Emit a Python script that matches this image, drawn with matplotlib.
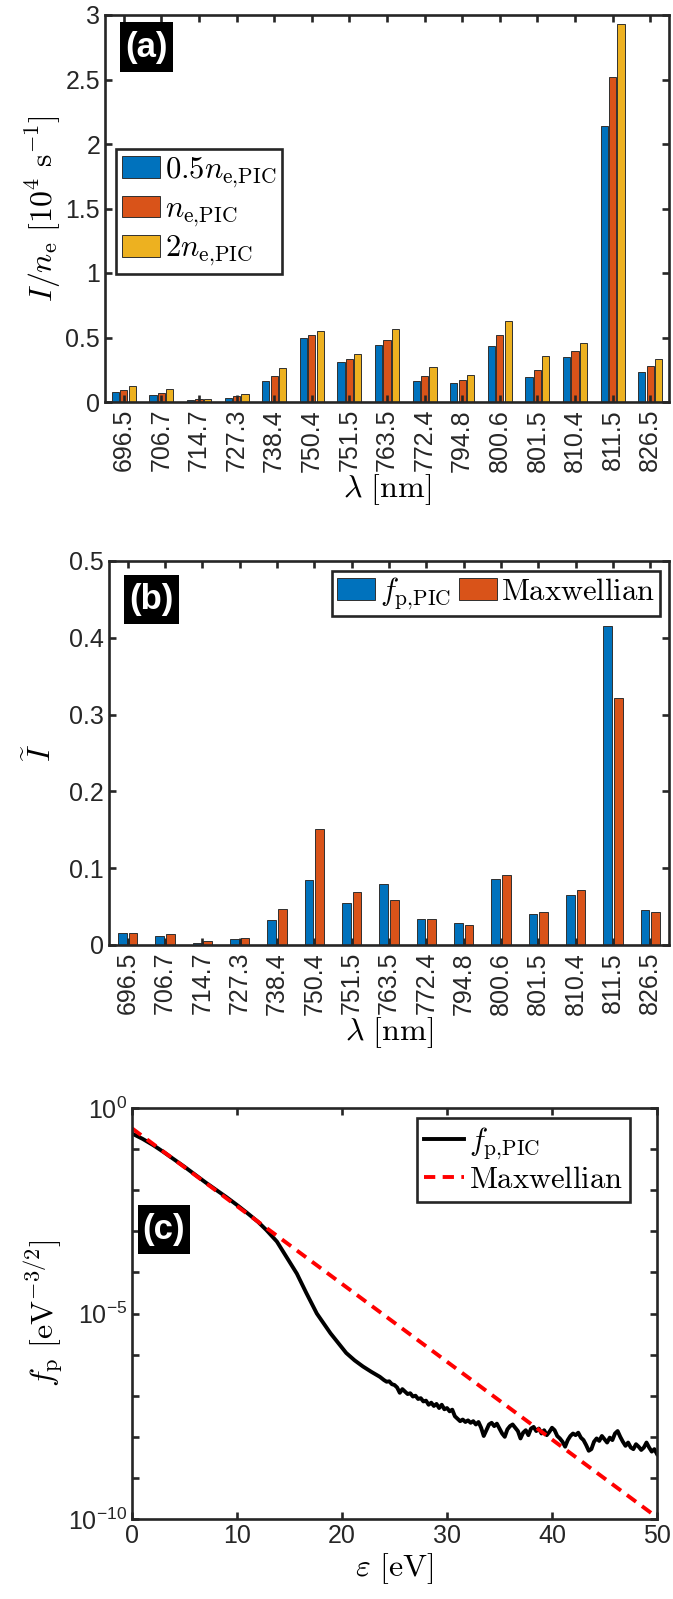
import numpy as np
import matplotlib
matplotlib.use('Agg')
import matplotlib.pyplot as plt
from matplotlib.patches import Rectangle
from matplotlib.ticker import FixedLocator, NullFormatter, LogFormatterSciNotation

# ---------------- data ----------------
wavelengths = ['696.5', '706.7', '714.7', '727.3', '738.4', '750.4', '751.5', '763.5',
               '772.4', '794.8', '800.6', '801.5', '810.4', '811.5', '826.5']

# panel (a): I/n_e [1e4 s^-1]
a_half = [0.075, 0.054, 0.015, 0.034, 0.165, 0.500, 0.312, 0.440, 0.165, 0.147,
          0.431, 0.190, 0.349, 2.140, 0.232]
a_one = [0.095, 0.070, 0.020, 0.046, 0.200, 0.516, 0.333, 0.480, 0.200, 0.170,
         0.520, 0.245, 0.395, 2.517, 0.279]
a_two = [0.127, 0.100, 0.026, 0.062, 0.263, 0.547, 0.372, 0.565, 0.271, 0.209,
         0.627, 0.354, 0.454, 2.928, 0.333]

# panel (b): normalised intensity
b_pic = [0.0152, 0.0113, 0.0030, 0.0074, 0.0330, 0.0850, 0.0547, 0.0790, 0.0334, 0.0280,
         0.0855, 0.0400, 0.0646, 0.4150, 0.0456]
b_max = [0.0152, 0.0148, 0.0048, 0.0087, 0.0470, 0.1510, 0.0694, 0.0590, 0.0334, 0.0265,
         0.0907, 0.0430, 0.0710, 0.3210, 0.0430]

# panel (c): EEPF (energy in eV, log10 of f_p)
c_energy = [0, 1, 2, 3, 4, 5, 6, 7, 8, 9, 10, 11, 12, 12.8, 13.8, 14.7, 15.7, 16.6, 17.6,
            18.9, 20.4, 21.2, 22.0, 22.8, 23.6,
            24.00, 24.25, 24.50, 24.75, 25.00, 25.25, 25.50, 25.75, 26.00, 26.25, 26.50, 26.75,
            27.00, 27.25, 27.50, 27.75, 28.00, 28.25, 28.50, 28.75, 29.00, 29.25, 29.50, 29.75,
            30.00, 30.25, 30.50, 30.75, 31.00, 31.25, 31.50, 31.75, 32.00, 32.25, 32.50, 32.75,
            33.00, 33.25, 33.50, 33.75, 34.00, 34.25, 34.50, 34.75, 35.00, 35.25, 35.50, 35.75,
            36.00, 36.25, 36.50, 36.75, 37.00, 37.25, 37.50, 37.75, 38.00, 38.25, 38.50, 38.75,
            39.00, 39.25, 39.50, 39.75, 40.00, 40.25, 40.50, 40.75, 41.00, 41.25, 41.50, 41.75,
            42.00, 42.25, 42.50, 42.75, 43.00, 43.25, 43.50, 43.75, 44.00, 44.25, 44.50, 44.75,
            45.00, 45.25, 45.50, 45.75, 46.00, 46.25, 46.50, 46.75, 47.00, 47.25, 47.50, 47.75,
            48.00, 48.25, 48.50, 48.75, 49.00, 49.25, 49.50, 49.75, 50.00]
c_log10_pic = [-0.62, -0.75, -0.90, -1.07, -1.25, -1.43, -1.62, -1.81, -1.99, -2.17, -2.36,
               -2.56, -2.77, -2.97, -3.25, -3.62, -4.03, -4.50, -5.00, -5.48, -5.96, -6.14,
               -6.29, -6.42, -6.54,
               -6.62, -6.66, -6.65, -6.72, -6.74, -6.80, -6.93, -6.84, -6.90, -6.96, -6.94, -7.02,
               -7.00, -7.08, -7.06, -7.14, -7.12, -7.22, -7.17, -7.25, -7.20, -7.30, -7.22, -7.33,
               -7.30, -7.38, -7.34, -7.50, -7.56, -7.62, -7.58, -7.64, -7.60, -7.66, -7.62, -7.70,
               -7.64, -7.78, -7.98, -7.84, -7.70, -7.66, -7.74, -7.68, -7.80, -7.92, -8.00, -7.82,
               -7.74, -7.70, -7.78, -7.86, -8.04, -7.90, -7.84, -7.96, -7.80, -7.76, -7.86, -7.80,
               -7.92, -7.84, -7.96, -7.88, -7.78, -7.84, -7.98, -8.04, -8.12, -8.24, -8.08, -7.98,
               -7.92, -7.96, -7.90, -8.02, -8.08, -8.20, -8.34, -8.30, -8.12, -8.04, -8.10, -7.98,
               -8.06, -8.14, -8.02, -8.08, -7.92, -7.86, -8.00, -8.12, -8.22, -8.14, -8.26, -8.30,
               -8.18, -8.24, -8.32, -8.26, -8.14, -8.26, -8.36, -8.30, -8.42]
max_energy = [0, 50]
max_f = [0.32, 1.1e-10]

# ---------------- style ----------------
plt.rcParams['font.family'] = ['Liberation Sans', 'DejaVu Sans']
plt.rcParams['mathtext.fontset'] = 'cm'
plt.rcParams['axes.unicode_minus'] = False

C_BLUE = '#0072BD'
C_ORANGE = '#D95319'
C_YELLOW = '#EDB120'
DARK = '#262626'
TICK_FS = 18
LABEL_FS = 23
LEG_FS = 22

W, H = 673, 1599
fig = plt.figure(figsize=(W / 100, H / 100), dpi=100)


def ax_rect(l, t, r, b):
    return [l / W, 1 - b / H, (r - l) / W, (b - t) / H]


def style_axes(ax):
    for s in ax.spines.values():
        s.set_linewidth(1.9)
        s.set_color(DARK)
    ax.tick_params(which='both', direction='in', top=True, right=True,
                   length=5, width=1.9, color=DARK, labelcolor=DARK,
                   labelsize=TICK_FS)


def panel_tag(l, t, r, b, txt):
    fig.add_artist(Rectangle((l / W, 1 - b / H), (r - l) / W, (b - t) / H,
                             transform=fig.transFigure, facecolor='black',
                             edgecolor='none', zorder=10))
    fig.text((l + r) / 2 / W, 1 - (t + b) / 2 / H, txt, ha='center', va='center',
             color='white', fontsize=25, fontweight='bold', family='Liberation Sans',
             zorder=11)


x = np.arange(1, len(wavelengths) + 1)
edge = dict(edgecolor='#303030', linewidth=0.7)
leg_common = dict(frameon=True, fancybox=False, framealpha=1, edgecolor=DARK,
                  fontsize=LEG_FS, borderaxespad=0)

# ---------------- panel (a) ----------------
ax1 = fig.add_axes(ax_rect(105, 15, 669, 402))
bw = 0.19
ax1.bar(x - 0.222, a_half, bw, color=C_BLUE, label=r'$0.5n_{\mathrm{e{,}PIC}}$', **edge)
ax1.bar(x, a_one, bw, color=C_ORANGE, label=r'$n_{\mathrm{e{,}PIC}}$', **edge)
ax1.bar(x + 0.222, a_two, bw, color=C_YELLOW, label=r'$2n_{\mathrm{e{,}PIC}}$', **edge)
ax1.set_xlim(0.5, 15.5)
ax1.set_ylim(0, 3)
ax1.set_xticks(x)
ax1.set_xticklabels(wavelengths, rotation=90)
ax1.set_yticks([0, 0.5, 1, 1.5, 2, 2.5, 3])
ax1.set_yticklabels(['0', '0.5', '1', '1.5', '2', '2.5', '3'])
style_axes(ax1)
ax1.tick_params(axis='x', pad=5)
ax1.set_xlabel(r'$\lambda\ [\mathrm{nm}]$', fontsize=LABEL_FS, labelpad=0)
ax1.set_ylabel(r'$I/n_\mathrm{e}\ [10^4\ \mathrm{s}^{-1}]$', fontsize=LABEL_FS, labelpad=2)
leg1 = ax1.legend(loc='upper left', bbox_to_anchor=(0.0195, 0.654),
                  handlelength=1.25, handleheight=0.72, handletextpad=0.15,
                  labelspacing=0.15, borderpad=0.2, **leg_common)
leg1.get_frame().set_linewidth(1.9)
panel_tag(120, 22, 173, 72, '(a)')

# ---------------- panel (b) ----------------
ax2 = fig.add_axes(ax_rect(109, 561, 669, 945))
bw2 = 0.232
ax2.bar(x - 0.14, b_pic, bw2, color=C_BLUE, label=r'$f_{\mathrm{p{,}PIC}}$', **edge)
ax2.bar(x + 0.14, b_max, bw2, color=C_ORANGE, label=r'$\mathrm{Maxwellian}$', **edge)
ax2.set_xlim(0.5, 15.5)
ax2.set_ylim(0, 0.5)
ax2.set_xticks(x)
ax2.set_xticklabels(wavelengths, rotation=90)
ax2.set_yticks([0, 0.1, 0.2, 0.3, 0.4, 0.5])
ax2.set_yticklabels(['0', '0.1', '0.2', '0.3', '0.4', '0.5'])
style_axes(ax2)
ax2.tick_params(axis='x', pad=5)
ax2.set_xlabel(r'$\lambda\ [\mathrm{nm}]$', fontsize=LABEL_FS, labelpad=0)
ax2.set_ylabel(r'$\widetilde{I}$', fontsize=LABEL_FS, labelpad=8)
leg2 = ax2.legend(loc='upper right', bbox_to_anchor=(0.984, 0.974), ncol=2,
                  handlelength=1.25, handleheight=0.72, handletextpad=0.15,
                  columnspacing=0.25, borderpad=0.15, **leg_common)
leg2.get_frame().set_linewidth(1.9)
panel_tag(124, 575, 179, 624, '(b)')

# ---------------- panel (c) ----------------
ax3 = fig.add_axes(ax_rect(132, 1108, 657, 1519))
ax3.plot(c_energy, 10 ** np.array(c_log10_pic), color='black', lw=2.8,
         label=r'$f_{\mathrm{p{,}PIC}}$')
ax3.plot(max_energy, max_f, color='#FF0000', lw=2.8, linestyle=(0, (2.9, 1.9)),
         label=r'$\mathrm{Maxwellian}$')
ax3.set_yscale('log')
ax3.set_xlim(0, 50)
ax3.set_ylim(1e-10, 1e0)
ax3.set_xticks([0, 10, 20, 30, 40, 50])
ax3.yaxis.set_major_locator(FixedLocator([1e-10, 1e-5, 1e0]))
ax3.yaxis.set_major_formatter(LogFormatterSciNotation())
ax3.yaxis.set_minor_locator(FixedLocator([10.0 ** k for k in range(-10, 1)]))
ax3.yaxis.set_minor_formatter(NullFormatter())
style_axes(ax3)
ax3.set_xlabel(r'$\varepsilon\ [\mathrm{eV}]$', fontsize=LABEL_FS, labelpad=2)
ax3.set_ylabel(r'$f_\mathrm{p}\ [\mathrm{eV}^{-3/2}]$', fontsize=LABEL_FS, labelpad=2)
leg3 = ax3.legend(loc='upper right', bbox_to_anchor=(0.949, 0.976),
                  handlelength=1.3, handletextpad=0.15, labelspacing=0.1,
                  borderpad=0.25, **leg_common)
leg3.get_frame().set_linewidth(1.9)
panel_tag(138, 1205, 190, 1254, '(c)')

fig.savefig('out.png', dpi=100)
